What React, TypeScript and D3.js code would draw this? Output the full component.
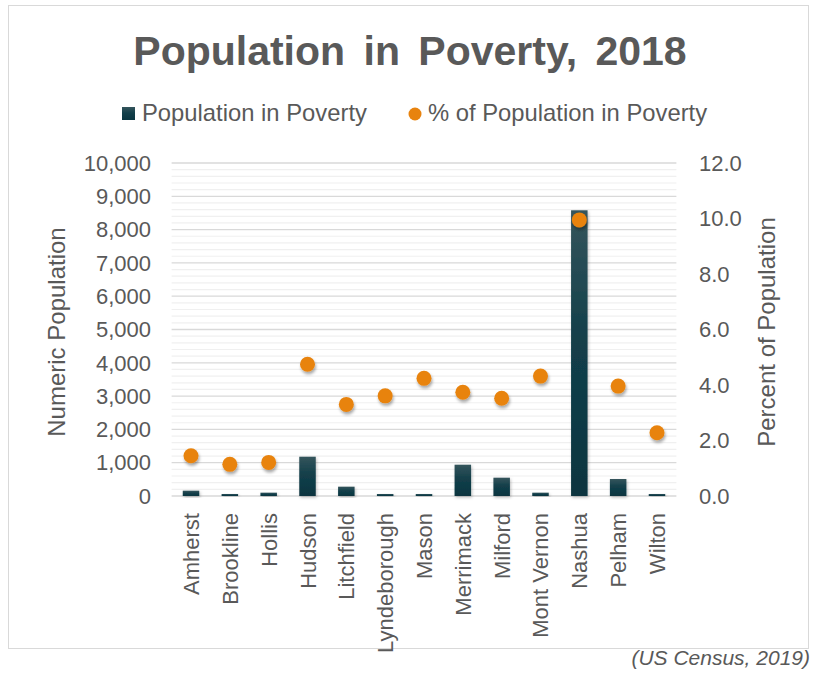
import React from "react";
import * as d3 from "d3";

const towns = ["Amherst","Brookline","Hollis","Hudson","Litchfield","Lyndeborough","Mason","Merrimack","Milford","Mont Vernon","Nashua","Pelham","Wilton"];
const population = [160, 60, 100, 1180, 280, 60, 60, 940, 550, 100, 8580, 510, 60];
const percent = [1.45, 1.14, 1.21, 4.75, 3.30, 3.61, 4.24, 3.74, 3.52, 4.32, 9.95, 3.96, 2.28];
const leftTicks = [0,1000,2000,3000,4000,5000,6000,7000,8000,9000,10000];
const rightTicks = [0,2,4,6,8,10,12];

const W = 817, H = 679;
const FONT = "'Liberation Sans', Arial, sans-serif";
const TXT = "#595959";

export default function App() {
  const x = d3.scaleBand<string>().domain(towns).range([171.6, 676.4]).paddingInner(0.575).paddingOuter(0.2875);
  const yL = d3.scaleLinear().domain([0, 10000]).range([496, 163]);
  const yR = d3.scaleLinear().domain([0, 12]).range([496, 163]);
  const minor = d3.range(0, 10001, 200).filter(v => v % 1000 !== 0);
  const fmt = d3.format(",");
  const [x0, x1] = x.range();
  return (
    <svg width={W} height={H} style={{ position: "absolute", left: 0, top: 0, background: "#fff" }} fontFamily={FONT}>
      <defs>
        <linearGradient id="barG" x1="0" y1="0" x2="0" y2="1">
          <stop offset="0" stopColor="#35555c" />
          <stop offset="0.45" stopColor="#133f4a" />
          <stop offset="1" stopColor="#0a3540" />
        </linearGradient>
        <filter id="sh" x="-50%" y="-50%" width="200%" height="200%">
          <feDropShadow dx="1" dy="2.5" stdDeviation="1.8" floodColor="#000" floodOpacity="0.35" />
        </filter>
        <filter id="shb" x="-50%" y="-20%" width="200%" height="140%">
          <feDropShadow dx="1" dy="1.5" stdDeviation="1.5" floodColor="#000" floodOpacity="0.25" />
        </filter>
      </defs>
      <rect x={8.5} y={5.5} width={800} height={643} fill="#fff" stroke="#d9d9d9" strokeWidth={1} />
      <text x={410} y={65} textAnchor="middle" fontSize={41} fontWeight="bold" fill={TXT} wordSpacing={7}>Population in Poverty, 2018</text>
      {/* legend */}
      <rect x={122} y={107} width={13} height={13} fill="url(#barG)" />
      <text x={142} y={121} fontSize={23.8} fill={TXT}>Population in Poverty</text>
      <circle cx={415} cy={114} r={6.5} fill="#e8830e" />
      <text x={428} y={121} fontSize={23.8} fill={TXT}>% of Population in Poverty</text>
      {/* gridlines */}
      {minor.map(v => (
        <line key={"m" + v} x1={x0} x2={x1} y1={yL(v)} y2={yL(v)} stroke="#f0f0f0" strokeWidth={1.2} />
      ))}
      {leftTicks.map(v => (
        <line key={"g" + v} x1={x0} x2={x1} y1={yL(v)} y2={yL(v)} stroke="#d9d9d9" strokeWidth={1.3} />
      ))}
      {/* bars */}
      {towns.map((t, i) => (
        <rect key={t} x={x(t)} y={yL(population[i])} width={x.bandwidth()} height={yL(0) - yL(population[i])} fill="url(#barG)" filter="url(#shb)" />
      ))}
      {/* dots */}
      {towns.map((t, i) => (
        <circle key={"d" + t} cx={(x(t) as number) + x.bandwidth() / 2} cy={yR(percent[i])} r={7.5} fill="#e8830e" filter="url(#sh)" />
      ))}
      {/* left ticks */}
      {leftTicks.map(v => (
        <text key={"l" + v} x={151} y={yL(v)} dy="0.35em" textAnchor="end" fontSize={22} fill={TXT}>{fmt(v)}</text>
      ))}
      {rightTicks.map(v => (
        <text key={"r" + v} x={699} y={yR(v)} dy="0.35em" textAnchor="start" fontSize={22} fill={TXT}>{v.toFixed(1)}</text>
      ))}
      {/* x labels */}
      {towns.map(t => {
        const cx = (x(t) as number) + x.bandwidth() / 2 + 8;
        return (
          <text key={"x" + t} transform={`translate(${cx},513) rotate(-90)`} textAnchor="end" fontSize={22} fill={TXT}>{t}</text>
        );
      })}
      <text transform="translate(65,332) rotate(-90)" textAnchor="middle" fontSize={24} fill={TXT}>Numeric Population</text>
      <text transform="translate(775,332) rotate(-90)" textAnchor="middle" fontSize={24} fill={TXT}>Percent of Population</text>
      <text x={810} y={665} textAnchor="end" fontSize={21} fontStyle="italic" fill={TXT}>(US Census, 2019)</text>
    </svg>
  );
}
